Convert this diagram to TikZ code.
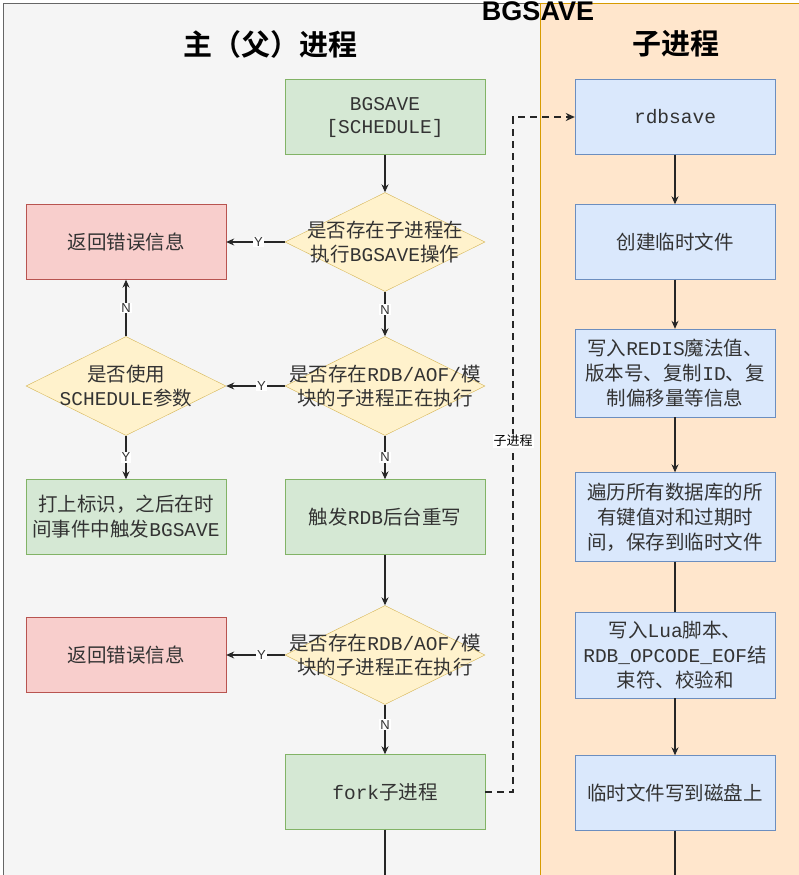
\documentclass[tikz,border=0pt]{standalone}
\usepackage{fontspec}
\setmainfont{Noto Sans CJK SC}[BoldFont={Noto Sans CJK SC Bold}]
\newfontfamily\monof{Liberation Mono}
\newfontfamily\sansf{Liberation Sans}
\usetikzlibrary{shapes.geometric,arrows.meta}
\definecolor{laneLfill}{HTML}{F5F5F5}
\definecolor{laneLdraw}{HTML}{666666}
\definecolor{laneRfill}{HTML}{FFE6CC}
\definecolor{laneRdraw}{HTML}{D79B00}
\definecolor{gfill}{HTML}{D5E8D4}
\definecolor{gdraw}{HTML}{82B366}
\definecolor{rfill}{HTML}{F8CECC}
\definecolor{rdraw}{HTML}{B85450}
\definecolor{yfill}{HTML}{FFF2CC}
\definecolor{ydraw}{HTML}{D6B656}
\definecolor{bfill}{HTML}{DAE8FC}
\definecolor{bdraw}{HTML}{6C8EBF}
\definecolor{txtc}{HTML}{333333}
\newcommand{\mt}[1]{{\monof #1}}
\begin{document}
\begin{tikzpicture}[x=1pt,y=-1pt,
  box/.style={rectangle, minimum width=200pt, minimum height=75pt, inner sep=0pt, align=center, text=txtc, font=\fontsize{19.5}{25}\selectfont},
  gbox/.style={box, fill=gfill, draw=gdraw},
  rbox/.style={box, fill=rfill, draw=rdraw},
  bbox/.style={box, fill=bfill, draw=bdraw},
  dia/.style={diamond, minimum width=200pt, minimum height=99pt, inner sep=0pt, fill=yfill, draw=ydraw},
  dtxt/.style={align=center, text=txtc, font=\fontsize{19.5}{24}\selectfont},
  conn/.style={draw=black!85, line width=1.1pt, -{Stealth[length=8pt,width=7pt]}},
  plain/.style={draw=black!85, line width=1.1pt},
  yn/.style={fill=white, inner sep=1pt, font=\sansf\fontsize{13}{13}\selectfont, text=txtc},
  head/.style={font=\bfseries\fontsize{29}{30}\selectfont, text=black}
]
\useasboundingbox (0,0) rectangle (799,875);
\clip (0,0) rectangle (799,875);
\fill[white] (0,0) rectangle (799,875);
% lanes
\draw[fill=laneLfill, draw=laneLdraw, line width=1pt] (3,4) rectangle (540,900);
\draw[fill=laneRfill, draw=laneRdraw, line width=1pt] (540,4) rectangle (820,900);
\node[font=\sansf\bfseries\fontsize{27}{27}\selectfont, anchor=base, inner sep=0pt] (title) at (538,21) {BGSAVE};
\node[head] (hl) at (270,44) {主（父）进程};
\node[head] (hr) at (676,44) {子进程};

% main column
\node[gbox] (bg) at (385,117) {\mt{BGSAVE}\\[-2pt]\mt{[SCHEDULE]}};
\node[dia, label={[dtxt]center:是否存在子进程在\\执行\mt{BGSAVE}操作}] (d1) at (385,242) {};
\node[rbox] (e1) at (126,242) {返回错误信息};
\node[dia, label={[dtxt]center:是否存在\mt{RDB/AOF/}模\\块的子进程正在执行}] (d2) at (385,386) {};
\node[dia, label={[dtxt]center:是否使用\\\mt{SCHEDULE}参数}] (ds) at (126,386) {};
\node[gbox] (mark) at (126,517) {打上标识，之后在时\\间事件中触发\mt{BGSAVE}};
\node[gbox] (trig) at (385,517) {触发\mt{RDB}后台重写};
\node[dia, label={[dtxt]center:是否存在\mt{RDB/AOF/}模\\块的子进程正在执行}] (d3) at (385,655) {};
\node[rbox] (e2) at (126,655) {返回错误信息};
\node[gbox] (fork) at (385,792) {\mt{fork}子进程};
\coordinate (forkout) at (385,885);

% child column
\node[bbox] (rdb) at (675,117) {\mt{rdbsave}};
\node[bbox] (tmp) at (675,242) {创建临时文件};
\node[bbox, minimum height=88pt] (magic) at (675,373) {写入\mt{REDIS}魔法值、\\版本号、复制\mt{ID}、复\\制偏移量等信息};
\node[bbox, minimum height=89pt] (iter) at (675,517) {遍历所有数据库的所\\有键值对和过期时\\间，保存到临时文件};
\node[bbox, minimum height=86pt] (lua) at (675,655) {写入\mt{Lua}脚本、\\\mt{RDB\_OPCODE\_EOF}结\\束符、校验和};
\node[bbox] (disk) at (675,793) {临时文件写到磁盘上};
\coordinate (diskout) at (675,885);

% connectors main
\draw[conn] (bg) -- (d1);
\draw[conn] (d1) -- node[yn, pos=0.45] {Y} (e1);
\draw[conn] (d1) -- node[yn, pos=0.4] {N} (d2);
\draw[conn] (d2) -- node[yn, pos=0.4] {Y} (ds);
\draw[conn] (ds) -- node[yn, pos=0.5] {N} (e1);
\draw[conn] (ds) -- node[yn, pos=0.5] {Y} (mark);
\draw[conn] (d2) -- node[yn, pos=0.5] {N} (trig);
\draw[conn] (trig) -- (d3);
\draw[conn] (d3) -- node[yn, pos=0.4] {Y} (e2);
\draw[conn] (d3) -- node[yn, pos=0.4] {N} (fork);
\draw[conn] (fork) -- (forkout);

% dashed fork -> rdbsave
\draw[draw=black!85, line width=2pt, dash pattern=on 7pt off 5pt, -{Stealth[length=9pt,width=8pt]}]
  (fork.east) -- (513,792) -- node[pos=0.52, fill=white, inner sep=1pt, font=\fontsize{13}{13}\selectfont, text=black] {子进程} (513,117) -- (rdb.west);

% child connectors
\draw[conn] (rdb) -- (tmp);
\draw[conn] (tmp) -- (magic);
\draw[conn] (magic) -- (iter);
\draw[plain] (iter) -- (lua);
\draw[conn] (lua) -- (disk);
\draw[conn] (disk) -- (diskout);
\end{tikzpicture}
\end{document}
